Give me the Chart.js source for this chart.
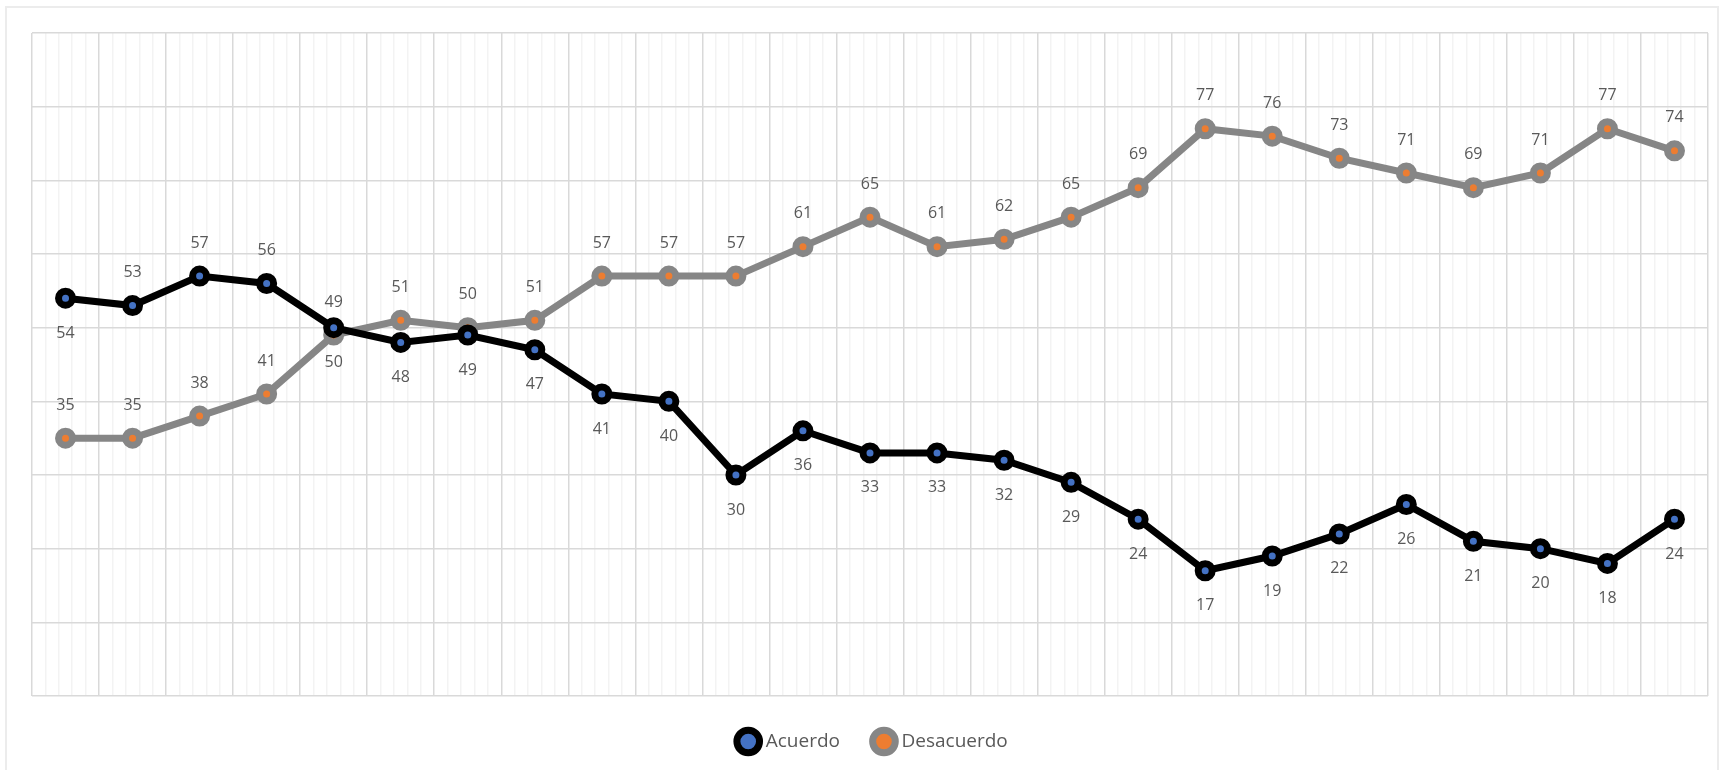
<!DOCTYPE html>
<html lang="es">
<head>
<meta charset="utf-8">
<title>Acuerdo / Desacuerdo</title>
<script src="https://cdn.jsdelivr.net/npm/chart.js@4/dist/chart.umd.min.js"></script>
<style>
    html, body {
        margin: 0;
        padding: 0;
        background: #ffffff;
        overflow: hidden;
    }
    .frame {
        position: absolute;
        left: 5px;
        top: 6px;
        width: 1714px;
        height: 800px;
        border: 2px solid #ececec;
        box-sizing: border-box;
    }
    .chart-box {
        position: absolute;
        left: 0;
        top: 0;
        width: 1722px;
        height: 770px;
    }
</style>
</head>
<body>
<div class="frame"></div>
<div class="chart-box">
    <canvas id="moodChart" width="1722" height="770"></canvas>
</div>
<script>
// Data (25 survey waves, no axis labels shown)
const categories = Array.from({ length: 25 }, (_, i) => String(i + 1));
const acuerdo = [54, 53, 57, 56, 50, 48, 49, 47, 41, 40, 30, 36, 33, 33, 32, 29, 24, 17, 19, 22, 26, 21, 20, 18, 24];
const desacuerdo = [35, 35, 38, 41, 49, 51, 50, 51, 57, 57, 57, 61, 65, 61, 62, 65, 69, 77, 76, 73, 71, 69, 71, 77, 74];
// where the value label sits: 'above' or 'below' the point
const acuerdoLabelPos = ['below', 'above', 'above', 'above', 'below', 'below', 'below', 'below', 'below', 'below',
    'below', 'below', 'below', 'below', 'below', 'below', 'below', 'below', 'below', 'below',
    'below', 'below', 'below', 'below', 'below'];
const desacuerdoLabelPos = Array(25).fill('above');
const yTicks = [0, 10, 20, 30, 40, 50, 60, 70, 80, 90];

document.addEventListener('DOMContentLoaded', function() {
    const labelFont = '16px "Open Sans", "Liberation Sans", sans-serif';

    // Simple value label plugin (no datalabels plugin available offline)
    const valueLabels = {
        id: 'valueLabels',
        afterDatasetsDraw(chart) {
            const ctx = chart.ctx;
            ctx.save();
            ctx.font = labelFont;
            ctx.fillStyle = '#595959';
            ctx.textAlign = 'center';
            ctx.textBaseline = 'middle';
            chart.data.datasets.forEach((ds, di) => {
                const meta = chart.getDatasetMeta(di);
                meta.data.forEach((pt, i) => {
                    const pos = ds.labelPos[i];
                    const dy = pos === 'above' ? -33 : 35;
                    ctx.fillText(String(ds.data[i]), pt.x, pt.y + dy);
                });
            });
            ctx.restore();
        }
    };

    const ctx = document.getElementById('moodChart').getContext('2d');
    const chart = new Chart(ctx, {
        type: 'line',
        data: {
            labels: categories,
            datasets: [{
                label: 'Acuerdo',
                data: acuerdo,
                labelPos: acuerdoLabelPos,
                borderColor: '#000000',
                borderWidth: 7,
                pointRadius: 7,
                pointBorderWidth: 7,
                pointBorderColor: '#000000',
                pointBackgroundColor: '#4472c4',
                tension: 0
            }, {
                label: 'Desacuerdo',
                data: desacuerdo,
                labelPos: desacuerdoLabelPos,
                borderColor: '#868686',
                borderWidth: 7,
                pointRadius: 7,
                pointBorderWidth: 7,
                pointBorderColor: '#868686',
                pointBackgroundColor: '#ed7d31',
                tension: 0
            }]
        },
        options: {
            responsive: false,
            animation: false,
            layout: {
                padding: { left: 32, top: 33, right: 6, bottom: 9 }
            },
            scales: {
                x: {
                    type: 'category',
                    offset: true,
                    display: true,
                    grid: { display: false, drawTicks: false },
                    border: { display: false },
                    ticks: { display: false }
                },
                // helper axis only used to draw the major + minor vertical grid
                xGrid: {
                    type: 'linear',
                    position: 'bottom',
                    min: 0,
                    max: categories.length * 5,
                    grid: {
                        drawTicks: false,
                        lineWidth: 1.5,
                        color: function(c) {
                            return c.tick.value % 5 === 0 ? '#d9d9d9' : '#f3f3f3';
                        }
                    },
                    border: { display: false },
                    ticks: { display: false, stepSize: 1, maxTicksLimit: 1000, autoSkip: false }
                },
                y: {
                    min: yTicks[0],
                    max: yTicks[yTicks.length - 1],
                    grid: { color: '#d9d9d9', lineWidth: 1.5, drawTicks: false },
                    border: { display: false },
                    ticks: { display: false, stepSize: 10 }
                }
            },
            plugins: {
                legend: {
                    display: true,
                    position: 'bottom',
                    labels: {
                        usePointStyle: true,
                        pointStyle: 'circle',
                        boxHeight: 16,
                        boxWidth: 16,
                        padding: 36,
                        color: '#595959',
                        font: { size: 19, family: '"Open Sans", "Liberation Sans", sans-serif' }
                    }
                },
                tooltip: { enabled: false }
            }
        },
        plugins: [valueLabels]
    });
});
</script>
</body>
</html>
